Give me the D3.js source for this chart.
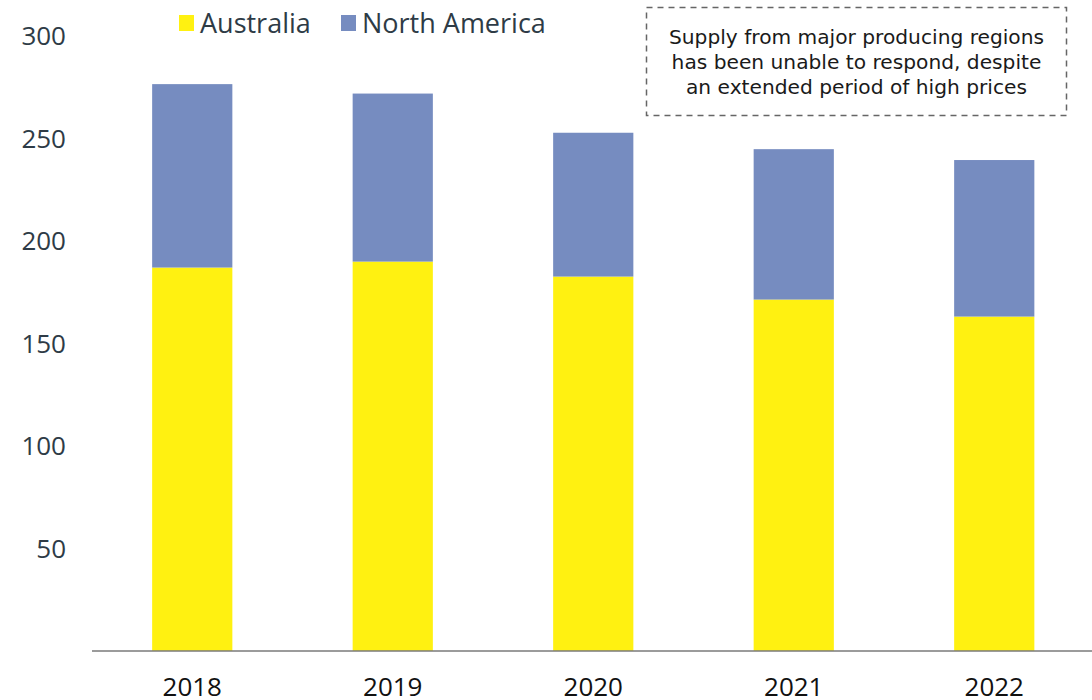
<!DOCTYPE html>
<html>
<head>
<meta charset="utf-8">
<script src="https://cdn.jsdelivr.net/npm/d3@7"></script>
<style>
  html, body { margin: 0; padding: 0; background: #fff; }
  svg { display: block; }
</style>
</head>
<body>
<svg id="chart" width="1092" height="700"></svg>
<script>
// Supply by producing region
const years = ["2018", "2019", "2020", "2021", "2022"];
const australia = [186.9, 189.8, 182.5, 171.3, 163.0];
const northAmerica = [89.4, 81.9, 70.1, 73.3, 76.3];
const yTicks = [50, 100, 150, 200, 250, 300];
const seriesNames = ["Australia", "North America"];
const seriesColors = ["#fff111", "#768cc0"];
const noteLines = [
  "Supply from major producing regions",
  "has been unable to respond, despite",
  "an extended period of high prices"
];

const svg = d3.select("#chart");

const x = d3.scaleBand()
  .domain(years)
  .range([92, 1094.5])
  .paddingInner(0.6)
  .paddingOuter(0.3);

const y = d3.scaleLinear()
  .domain([0, 300])
  .range([651, 35.5]);

const rows = years.map((yr, i) => ({ year: yr, Australia: australia[i], "North America": northAmerica[i] }));
const stacked = d3.stack().keys(seriesNames)(rows);
const color = d3.scaleOrdinal().domain(seriesNames).range(seriesColors);

// Stacked bars
svg.append("g")
  .selectAll("g")
  .data(stacked)
  .join("g")
  .attr("fill", d => color(d.key))
  .selectAll("rect")
  .data(d => d)
  .join("rect")
  .attr("x", d => x(d.data.year))
  .attr("y", d => y(d[1]))
  .attr("width", x.bandwidth())
  .attr("height", d => y(d[0]) - y(d[1]));

// Y axis labels (no axis line)
const yAxis = svg.append("g")
  .attr("transform", "translate(66,0)")
  .call(d3.axisLeft(y).tickValues(yTicks).tickSize(0).tickPadding(0));
yAxis.select(".domain").remove();
yAxis.selectAll("text")
  .attr("font-family", "'Open Sans', sans-serif")
  .attr("font-size", 26)
  .attr("fill", "#2e3b46")
  .attr("dy", "0.35em");

// X axis baseline and year labels
const xAxis = svg.append("g")
  .attr("transform", "translate(0,651)")
  .call(d3.axisBottom(x).tickSize(0).tickPadding(0));
xAxis.select(".domain").remove();
svg.append("line")
  .attr("x1", 92).attr("x2", 1092)
  .attr("y1", 651).attr("y2", 651)
  .attr("stroke", "#7a7a7a")
  .attr("stroke-width", 1.6);
xAxis.selectAll("text")
  .attr("font-family", "'Open Sans', sans-serif")
  .attr("font-size", 26)
  .attr("fill", "#111")
  .attr("dy", 0)
  .attr("y", 45);

// Legend
const legendItems = [
  { name: seriesNames[0], sx: 179, tx: 200 },
  { name: seriesNames[1], sx: 341, tx: 362 }
];
const legend = svg.append("g");
legendItems.forEach(item => {
  legend.append("rect")
    .attr("x", item.sx).attr("y", 15)
    .attr("width", 15).attr("height", 16)
    .attr("fill", color(item.name));
  legend.append("text")
    .attr("x", item.tx).attr("y", 33)
    .attr("font-family", "'Open Sans', sans-serif")
    .attr("font-size", 27)
    .attr("fill", "#2e3b46")
    .text(item.name);
});

// Annotation box
const note = svg.append("g");
note.append("rect")
  .attr("x", 646.5).attr("y", 7.5)
  .attr("width", 420).attr("height", 108)
  .attr("fill", "none")
  .attr("stroke", "#666")
  .attr("stroke-width", 1.5)
  .attr("stroke-dasharray", "6,5");
note.selectAll("text")
  .data(noteLines)
  .join("text")
  .attr("x", 856.5)
  .attr("y", (d, i) => 44 + i * 25)
  .attr("text-anchor", "middle")
  .attr("font-family", "'DejaVu Sans', sans-serif")
  .attr("font-size", 20.2)
  .attr("fill", "#1a1a1a")
  .text(d => d);
</script>
</body>
</html>
